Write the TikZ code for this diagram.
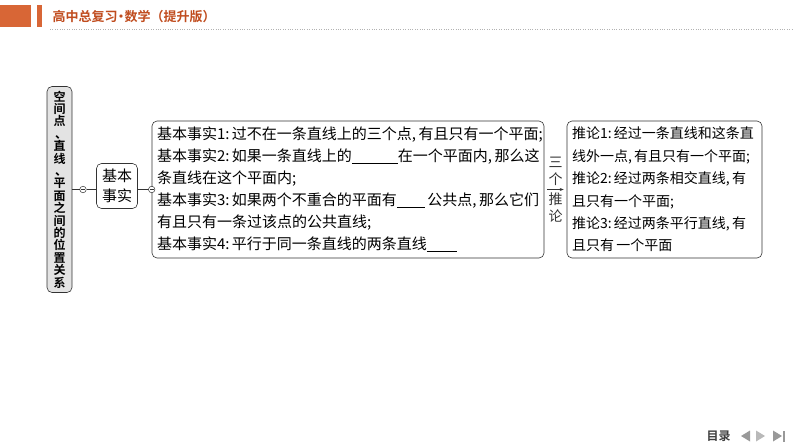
\documentclass[tikz,border=0pt]{standalone}
\usepackage{fontspec}
\newfontfamily\cjk[BoldFont={Noto Sans CJK SC Bold}]{Noto Sans CJK SC}
\usetikzlibrary{arrows.meta}
\usetikzlibrary{positioning}
\definecolor{hdorange}{RGB}{216,102,54}
\definecolor{hdtitle}{RGB}{192,76,30}
\newcommand{\blank}[1]{\rule[-2pt]{#1}{0.6pt}}
\newcommand{\dun}{\kern3pt、}

\begin{document}
\begin{tikzpicture}[x=1pt, y=-1pt,
    box/.style={draw=black!80, rounded corners=5pt, line width=0.6pt},
    knob/.style={draw=black!80, fill=white, circle, inner sep=0pt, minimum size=6.5pt, line width=0.5pt,
        path picture={\draw[black!80, line width=0.5pt] ([xshift=1.4pt]path picture bounding box.west) -- ([xshift=-1.4pt]path picture bounding box.east);}},
    body/.style={font=\cjk\fontsize{15}{22}\selectfont, align=left, inner xsep=5pt}]
    \useasboundingbox (0,0) rectangle (794,447);
    % header
    \fill[hdorange] (0,5) rectangle (31,27);
    \fill[hdorange] (37,5) rectangle (42,27);
    \node[anchor=west, text=hdtitle, font=\cjk\bfseries\fontsize{13}{13}\selectfont] (title) at (49,17) {高中总复习\kern-3pt·\kern-3pt数学（提升版）};
    \draw[gray!60, dotted] (50,29) -- (794,29);
    % topic
    \node[box, fill=gray!22, minimum width=25pt, minimum height=206pt, inner sep=0pt, align=center,
        font=\cjk\bfseries\fontsize{12}{12.4}\selectfont] (topic) at (59.5,189.5)
        {空\\间\\点\\\dun\\直\\线\\\dun\\平\\面\\之\\间\\的\\位\\置\\关\\系};
    \node[box, minimum width=41pt, minimum height=45pt, inner sep=0pt, align=center,
        font=\cjk\fontsize{15}{20}\selectfont] (fact) at (117,186) {基本\\事实};
    \node[box, body, text width=382pt, minimum height=137pt] (facts) at (348,189.5)
        {基本事实1:\,过不在一条直线上的三个点,\,有且只有一个平面;\\
         基本事实2:\,如果一条直线上的\blank{46pt}在一个平面内,\,那么这\\
         条直线在这个平面内;\\
         基本事实3:\,如果两个不重合的平面有\blank{28pt}\,公共点,\,那么它们\\
         有且只有一条过该点的公共直线;\\
         基本事实4:\,平行于同一条直线的两条直线\blank{30pt}};
    \node[box, body, font=\cjk\fontsize{14}{22.4}\selectfont, text width=185pt, minimum height=137pt] (props) at (664.5,189.5)
        {推论1:\,经过一条直线和这条直\\
         线外一点,\,有且只有一个平面;\\
         推论2:\,经过两条相交直线,\,有\\
         且只有一个平面;\\
         推论3:\,经过两条平行直线,\,有\\
         且只有\,一个平面};
    \node[knob] (c1) at (83,189.5) {};
    % connectors
    \draw[black!80, line width=0.5pt] (topic) -- (c1);
    \draw[black!80, line width=0.5pt] (c1) -- (c1 -| fact.west);
    \draw[black!80, line width=0.5pt] (fact.east |- facts.west) -- (facts.west);
    \node[knob] (c2) at (facts.west) {};
    \draw[-{Stealth[length=4pt, width=3pt]}, black!80, line width=0.5pt, shorten <=2.5pt, shorten >=3pt]
        (facts.east) -- (props.west)
        node[midway, above=0pt, align=center, font=\cjk\fontsize{14}{17}\selectfont] (san) {三\\个}
        node[midway, below=0pt, align=center, font=\cjk\fontsize{14}{17}\selectfont] (tui) {推\\论};
    % footer
    \node[anchor=west, text=black!75, font=\cjk\bfseries\fontsize{12}{12}\selectfont] (menu) at (703,436) {目录};
    \fill[gray!80] (750,430.5) -- (750,441.5) -- (741,436) -- cycle;
    \fill[gray!55] (756,430.5) -- (756,441.5) -- (765,436) -- cycle;
    \fill[gray!80] (773,430.5) -- (773,441.5) -- (782,436) -- cycle;
    \fill[gray!80] (783,430.5) rectangle (785,441.5);
\end{tikzpicture}
\end{document}
